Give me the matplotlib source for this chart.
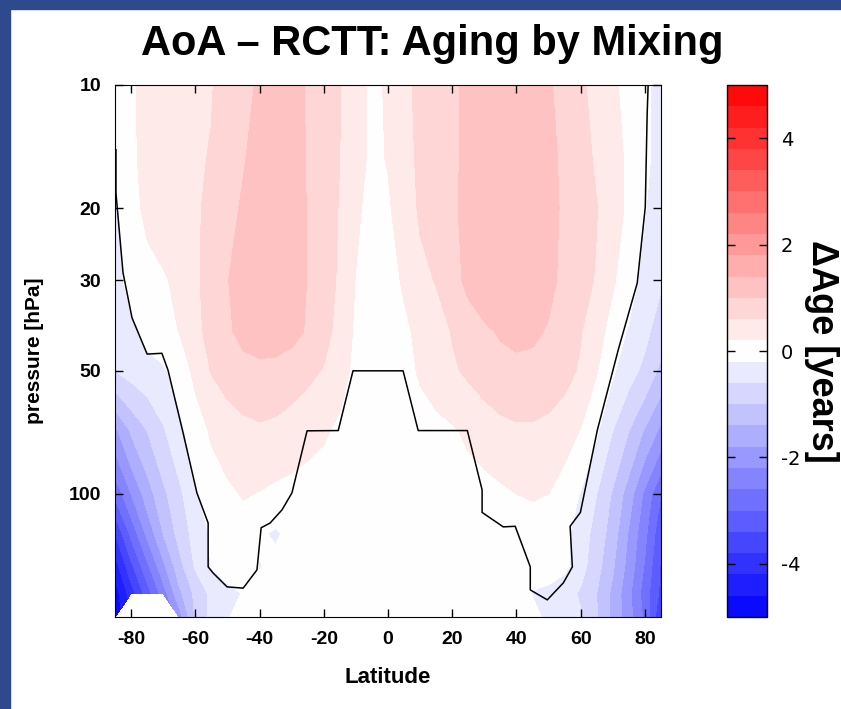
# AoA - RCTT: Aging by Mixing (latitude-pressure contour plot)
import numpy as np
import matplotlib
matplotlib.use("Agg")
import matplotlib.pyplot as plt
from matplotlib.patches import Rectangle
from matplotlib.ticker import NullLocator

plt.rcParams['axes.unicode_minus'] = False
nan = np.nan

# latitude grid (deg) and pressure levels (hPa)
lats = [-85, -80, -75, -70, -65, -60, -55, -50, -45, -40, -35, -30, -25, -20, -15, -10, -5, 0,
        5, 10, 15, 20, 25, 30, 35, 40, 45, 50, 55, 60, 65, 70, 75, 80, 85]
levels_hpa = [10, 15, 20, 30, 40, 50, 70, 100, 125, 150, 175, 200]

# delta age [years], one row per pressure level
age_10 = [0.0, 0.12, 0.36, 0.45, 0.5, 0.55, 0.58, 0.75, 0.9, 1.05, 1.3, 1.2, 0.95, 0.75, 0.61, 0.4, 0.1, 0.25,
          0.5, 0.7, 0.8, 0.92, 1.1, 1.3, 1.35, 1.35, 1.25, 1.05, 0.85, 0.65, 0.5, 0.26, 0.08, -0.12, -0.35]
age_15 = [-0.15, 0.1, 0.36, 0.45, 0.5, 0.55, 0.62, 0.8, 0.97, 1.15, 1.35, 1.3, 0.95, 0.75, 0.6, 0.35, 0.12, 0.22,
          0.45, 0.68, 0.8, 0.92, 1.1, 1.3, 1.35, 1.35, 1.3, 1.12, 0.9, 0.72, 0.55, 0.35, 0.12, -0.1, -0.38]
age_20 = [-0.28, 0.05, 0.3, 0.42, 0.5, 0.54, 0.7, 0.88, 1.05, 1.3, 1.35, 1.3, 0.97, 0.75, 0.58, 0.28, 0.05, 0.15,
          0.4, 0.65, 0.8, 0.93, 1.12, 1.3, 1.35, 1.35, 1.3, 1.15, 0.92, 0.75, 0.61, 0.38, 0.12, -0.18, -0.42]
age_30 = [-0.35, -0.05, 0.05, 0.15, 0.3, 0.55, 0.72, 0.98, 1.25, 1.35, 1.35, 1.3, 0.98, 0.75, 0.55, 0.18, 0.05, 0.05,
          0.25, 0.5, 0.62, 0.85, 1.1, 1.3, 1.35, 1.35, 1.3, 1.15, 0.85, 0.72, 0.57, 0.24, 0.0, -0.35, -0.55]
age_40 = [-0.5, -0.3, -0.08, 0.05, 0.21, 0.5, 0.72, 0.92, 1.15, 1.3, 1.3, 1.15, 0.95, 0.7, 0.5, 0.12, 0.02, 0.0,
          0.12, 0.3, 0.45, 0.62, 0.8, 0.92, 1.05, 1.15, 1.1, 0.95, 0.75, 0.62, 0.35, 0.05, -0.25, -0.5, -0.8]
age_50 = [-0.6, -0.45, -0.35, -0.25, -0.05, 0.3, 0.62, 0.75, 0.83, 0.85, 0.82, 0.76, 0.68, 0.58, 0.35, 0.1, 0.0, -0.02,
          0.05, 0.25, 0.4, 0.55, 0.66, 0.76, 0.83, 0.85, 0.84, 0.8, 0.72, 0.55, 0.22, -0.15, -0.45, -0.7, -1.1]
age_70 = [-1.9, -1.35, -1.0, -0.65, -0.3, 0.0, 0.25, 0.4, 0.5, 0.55, 0.52, 0.45, 0.35, 0.25, 0.12, 0.02, 0.0, 0.0,
          0.0, 0.02, 0.08, 0.15, 0.28, 0.4, 0.5, 0.55, 0.55, 0.5, 0.38, 0.18, -0.15, -0.6, -1.0, -1.45, -1.9]
age_100 = [-2.9, -2.2, -1.6, -1.1, -0.7, -0.25, 0.0, 0.12, 0.23, 0.18, 0.1, 0.05, 0.0, 0.0, 0.0, 0.0, 0.0, 0.0,
           0.0, 0.0, 0.0, 0.0, 0.0, 0.05, 0.12, 0.2, 0.24, 0.2, 0.0, -0.22, -0.6, -1.05, -1.6, -2.3, -3.0]
age_125 = [-3.8, -2.9, -2.1, -1.4, -0.85, -0.45, -0.15, 0.0, 0.02, -0.15, -0.25, -0.1, 0.0, 0.0, 0.0, 0.0, 0.0, 0.0,
           0.0, 0.0, 0.0, 0.0, 0.0, -0.05, -0.1, -0.05, 0.0, 0.0, -0.1, -0.4, -0.75, -1.2, -1.85, -2.5, -3.3]
age_150 = [-4.4, -3.5, -2.7, -1.9, -1.15, -0.55, -0.18, 0.0, 0.0, -0.22, -0.1, 0.0, 0.0, 0.0, 0.0, 0.0, 0.0, 0.0,
           0.0, 0.0, 0.0, 0.0, 0.0, 0.0, 0.0, 0.0, -0.05, 0.0, -0.1, -0.45, -0.85, -1.35, -1.95, -2.65, -3.45]
age_175 = [-4.8, -4.0, -3.2, -2.4, -1.5, -0.9, -0.5, -0.32, -0.18, -0.1, 0.0, 0.0, 0.0, 0.0, 0.0, 0.0, 0.0, 0.0,
           0.0, 0.0, 0.0, 0.0, 0.0, 0.0, 0.0, 0.0, -0.22, -0.3, -0.45, -0.65, -1.0, -1.5, -2.1, -2.8, -3.5]
age_200 = [-4.95, nan, nan, nan, -2.0, -0.95, -0.5, -0.22, -0.08, 0.0, 0.0, 0.0, 0.0, 0.0, 0.0, 0.0, 0.0, 0.0,
           0.0, 0.0, 0.0, 0.0, 0.0, 0.0, 0.0, 0.0, -0.1, -0.28, -0.45, -0.57, -0.98, -1.5, -2.05, -2.7, -3.8]

# black contour line (lat, hPa)
line_lat = [-84.7, -84.7, -82.5, -79.7, -75.0, -70.4, -68.5, -63.8, -59.5, -56.0, -56.0, -54.5, -50.1, -45.1,
            -40.8, -39.5, -36.7, -33.0, -29.9, -25.2, -15.5, -10.9, 4.7, 9.4, 24.7, 29.3, 29.3, 35.9, 39.6,
            44.3, 44.3, 49.6, 54.6, 57.4, 56.7, 59.9, 65.2, 71.7, 77.6, 80.1, 80.7, 81.0]
line_p = [14.4, 18.4, 28.8, 37.1, 45.5, 45.3, 49.8, 70.9, 99.4, 117.8, 150.8, 156, 168.8, 170,
          153.4, 121, 117.8, 109.4, 99.4, 70.1, 70, 50, 50, 70, 70, 97.8, 111, 120.4, 120,
          150.8, 171.7, 181.6, 165, 150.8, 120, 111, 69.7, 44.4, 30.5, 19.9, 11.7, 10]

cbar_ticks = [-4, -2, 0, 2, 4]
contour_levels = np.linspace(-5, 5, 26)

age = np.array([age_10, age_15, age_20, age_30, age_40, age_50, age_70,
                age_100, age_125, age_150, age_175, age_200])
age = np.ma.masked_invalid(age)

W, H = 841, 709
fig = plt.figure(figsize=(W / 100, H / 100), dpi=100)
fig.patch.set_facecolor('white')

# slide border
slide_blue = '#2f4a8c'
fig.patches.append(Rectangle((0, 0), 10 / W, 1, transform=fig.transFigure, color=slide_blue, zorder=0))
fig.patches.append(Rectangle((0, 1 - 9 / H), 1, 9 / H, transform=fig.transFigure, color=slide_blue, zorder=0))

ax = fig.add_axes([115 / W, 92 / H, 546 / W, 532 / H])
cs = ax.contourf(lats, levels_hpa, age, levels=contour_levels, cmap='bwr', vmin=-5, vmax=5)
ax.plot(line_lat, line_p, color='black', lw=1.1)

ax.set_yscale('log')
ax.set_ylim(200, 10)
ax.set_xlim(-85, 85)
ax.set_xticks([-80, -60, -40, -20, 0, 20, 40, 60, 80])
ax.set_yticks([10, 20, 30, 50, 100])
ax.set_yticklabels(['10', '20', '30', '50', '100'])
ax.yaxis.set_minor_locator(NullLocator())
ax.tick_params(direction='in', top=True, right=True, length=6, width=1, pad=10)
for lab in ax.get_xticklabels() + ax.get_yticklabels():
    lab.set_family('Liberation Sans')
    lab.set_fontweight('bold')
    lab.set_fontsize(14)

ax.set_xlabel('Latitude', family='Liberation Sans', fontweight='bold', fontsize=16, labelpad=14)
ax.set_ylabel('pressure [hPa]', family='Liberation Sans', fontweight='bold', fontsize=15, labelpad=18)

fig.text(432 / W, 1 - 44 / H, 'AoA – RCTT: Aging by Mixing', family='Liberation Sans', fontweight='bold',
         fontsize=30, ha='center', va='center')

cax = fig.add_axes([727 / W, 92 / H, 40 / W, 532 / H])
cb = fig.colorbar(cs, cax=cax, ticks=cbar_ticks)
cb.ax.tick_params(direction='in', left=True, right=True, length=6, width=1, labelsize=14, pad=10)
cb.outline.set_linewidth(1)
cb.set_label('ΔAge [years]', rotation=270, family='Liberation Sans', fontweight='bold', fontsize=26,
             labelpad=28)

fig.savefig('out.png', dpi=100)
